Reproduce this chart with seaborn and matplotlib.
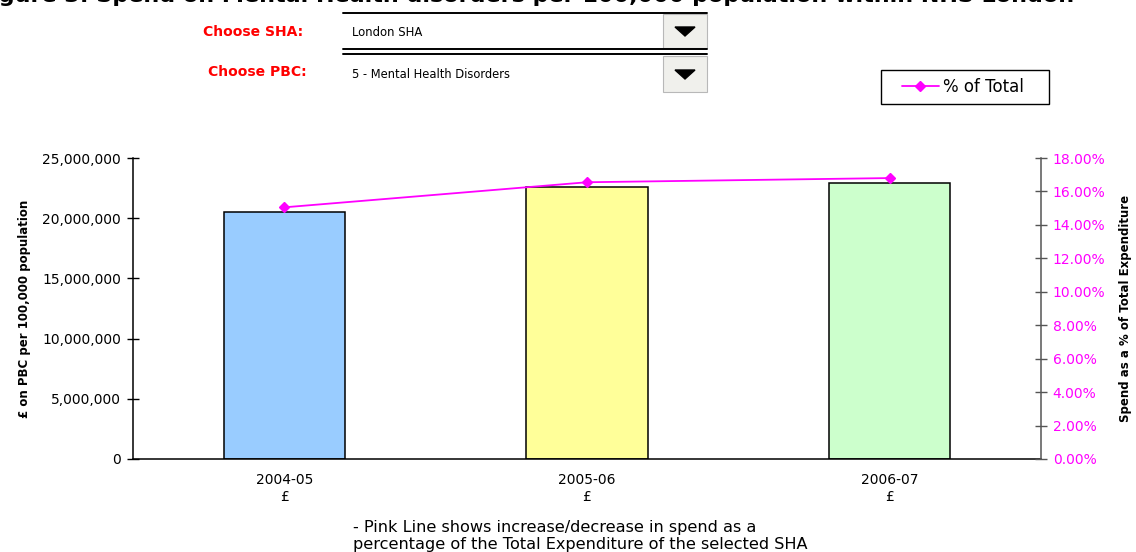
import numpy as np
import pandas as pd
import matplotlib
matplotlib.use("Agg")
import matplotlib.pyplot as plt
import seaborn as sns
from matplotlib.lines import Line2D
from matplotlib.patches import Rectangle, Polygon
from matplotlib.ticker import FuncFormatter, MultipleLocator, FixedLocator

# data
years = ["2004-05", "2005-06", "2006-07"]
tick_labels = ["2004-05\n£", "2005-06\n£", "2006-07\n£"]
spend = [20500000, 22600000, 22950000]
pct_total = [0.1505, 0.1655, 0.1680]
bar_colors = ["#99CCFF", "#FFFF99", "#CCFFCC"]

title = "Figure 3: Spend on Mental Health disorders per 100,000 population within NHS London"
sha_choice = "London SHA"
pbc_choice = "5 - Mental Health Disorders"
note = ("- Pink Line shows increase/decrease in spend as a\n"
        "percentage of the Total Expenditure of the selected SHA")

df = pd.DataFrame({"year": years, "spend": spend, "pct": pct_total})

sns.set_theme(style="white")
plt.rcParams["font.family"] = ["DejaVu Sans"]
plt.rcParams["text.color"] = "black"
plt.rcParams["axes.labelcolor"] = "black"
plt.rcParams["xtick.color"] = "black"
plt.rcParams["ytick.color"] = "black"

W, H = 1136, 552
fig = plt.figure(figsize=(W / 100, H / 100), dpi=100)
fig.patch.set_facecolor("white")


def px(x, y):
    # pixel position -> figure fraction
    return x / W, 1 - y / H


ax = fig.add_axes([133 / W, 1 - 459 / H, (1041 - 133) / W, 301 / H])
sns.barplot(data=df, x="year", y="spend", hue="year", palette=bar_colors,
            width=0.4, edgecolor="black", linewidth=1.1, legend=False,
            saturation=1, ax=ax)
ax.set_xlim(-0.5, 2.5)
ax.set_ylim(0, 25000000)
ax.yaxis.set_major_locator(MultipleLocator(5000000))
ax.yaxis.set_major_formatter(FuncFormatter(lambda v, p: "{:,.0f}".format(v)))
ax.set_xticks(range(len(years)))
ax.set_xticklabels(tick_labels, fontsize=10, linespacing=1.3)
ax.xaxis.set_minor_locator(FixedLocator([0.5, 1.5]))
ax.tick_params(axis="x", which="major", length=0, pad=10)
ax.tick_params(axis="x", which="minor", length=8, width=1, direction="inout", color="black")
ax.tick_params(axis="y", length=9, width=1, direction="inout", color="black", labelsize=10, pad=4)
ax.set_xlabel("")
ax.set_ylabel("£ on PBC per 100,000 population", fontsize=8.5, fontweight="bold", labelpad=8)
for s in ["top", "right"]:
    ax.spines[s].set_visible(False)
ax.spines["left"].set_color("black")
ax.spines["bottom"].set_color("black")
ax.spines["left"].set_linewidth(1.1)
ax.spines["bottom"].set_linewidth(1.1)

ax2 = ax.twinx()
sns.pointplot(data=df, x="year", y="pct", color="#FF00FF", markers="D",
              linestyles="-", markersize=5, linewidth=1.3, ax=ax2)
ax2.set_xlim(-0.5, 2.5)
ax2.set_ylim(0, 0.18)
ax2.yaxis.set_major_locator(MultipleLocator(0.02))
ax2.yaxis.set_major_formatter(FuncFormatter(lambda v, p: "{:.2%}".format(v)))
ax2.tick_params(axis="y", length=9, width=1, direction="inout", color="#555555",
                labelcolor="#FF00FF", labelsize=10, pad=4)
ax2.set_ylabel("Spend as a % of Total Expenditure", fontsize=8.5, fontweight="bold", labelpad=10)
ax2.set_xlabel("")
for s in ["top", "left", "bottom"]:
    ax2.spines[s].set_visible(False)
ax2.spines["right"].set_color("#555555")
ax2.spines["right"].set_linewidth(1.1)

# legend box, drawn as a plain frame plus a frameless legend inside
x0, y0 = px(881, 104)
fig.add_artist(Rectangle((x0, y0), 168 / W, 34 / H, facecolor="white",
                         edgecolor="black", linewidth=1))
handle = Line2D([], [], color="#FF00FF", marker="D", markersize=5, linewidth=1.3)
leg = fig.legend([handle], ["% of Total"], loc="center left",
                 bbox_to_anchor=px(902, 87), fontsize=12, frameon=False,
                 handlelength=2.2, handletextpad=0.25, borderpad=0,
                 borderaxespad=0)

# title, cut at the top edge like the original
fig.text(px(-24, 0)[0], px(0, 1.5)[1], title, fontsize=16, fontweight="bold",
         va="baseline", ha="left")

# selector controls
fig.text(*px(303, 32), "Choose SHA:", color="#FF0000", fontsize=10,
         fontweight="bold", ha="right", va="center")
fig.text(*px(307, 72), "Choose PBC:", color="#FF0000", fontsize=10,
         fontweight="bold", ha="right", va="center")
fig.text(*px(352, 33), sha_choice, fontsize=8.4, ha="left", va="center")
fig.text(*px(352, 74), pbc_choice, fontsize=8.3, ha="left", va="center")

for yl in [13, 49, 54]:
    fig.add_artist(Line2D([343 / W, 707 / W], [1 - yl / H, 1 - yl / H],
                          color="black", linewidth=1.4))
for top, bot in [(14, 48), (56, 92)]:
    bx, by = px(663, bot)
    fig.add_artist(Rectangle((bx, by), 44 / W, (bot - top) / H,
                             facecolor="#F0F0EC", edgecolor="#B8B8B8", linewidth=0.8))
    cy = (top + bot) / 2
    tri = [px(675, cy - 4), px(695, cy - 4), px(685, cy + 5)]
    fig.add_artist(Polygon(tri, closed=True, facecolor="black", edgecolor="black"))

fig.text(*px(353, 536), note, fontsize=11.6, ha="left", va="center", linespacing=1.15)

fig.savefig("out.png", dpi=100)
